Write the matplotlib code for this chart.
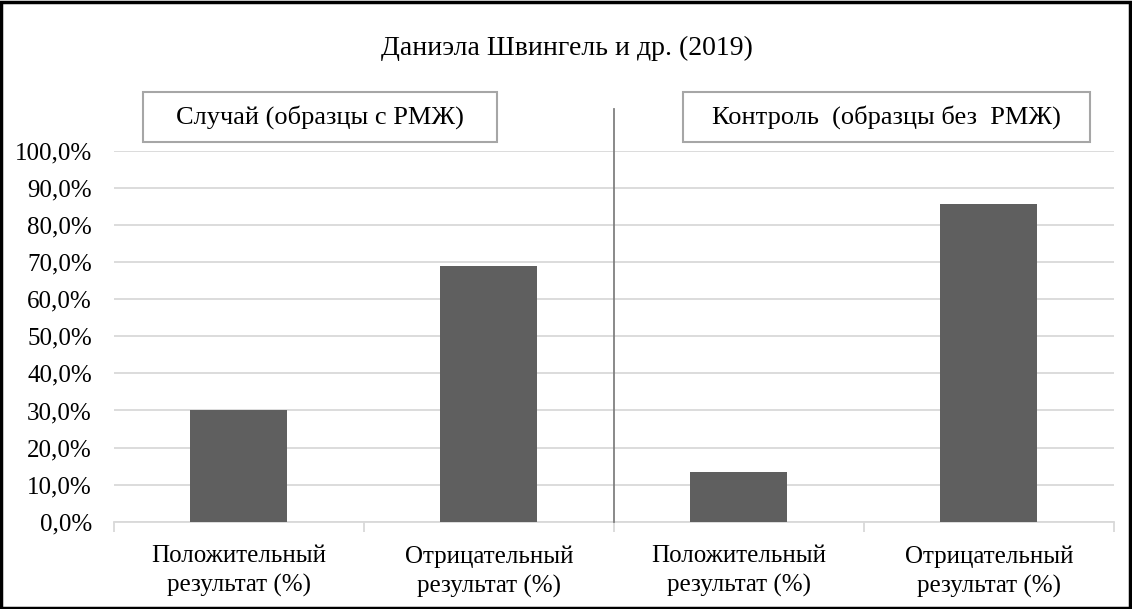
import matplotlib
matplotlib.use('Agg')
import matplotlib.pyplot as plt
from matplotlib.patches import Rectangle
from matplotlib.lines import Line2D

# data
categories = ["Положительный\nрезультат (%)", "Отрицательный\nрезультат (%)",
              "Положительный\nрезультат (%)", "Отрицательный\nрезультат (%)"]
values = [30.2, 68.9, 13.5, 85.7]
yticks = [0, 10, 20, 30, 40, 50, 60, 70, 80, 90, 100]
title = "Даниэла Швингель и др. (2019)"
group_labels = ["Случай (образцы с РМЖ)", "Контроль  (образцы без  РМЖ)"]

plt.rcParams['font.family'] = ['Liberation Serif', 'DejaVu Serif']

W, H = 1132, 609
fig = plt.figure(figsize=(W / 100, H / 100), dpi=100)

# axes box in pixel coords
x0, x1 = 114, 1114
y_top, y_bot = 151, 521.7
ax = fig.add_axes([x0 / W, (H - y_bot) / H, (x1 - x0) / W, (y_bot - y_top) / H])

grid_c = '#d9d9d9'
ax.bar(range(len(values)), values, width=0.388, color='#5f5f5f', zorder=3)
ax.set_xlim(-0.5, len(values) - 0.5)
ax.set_ylim(0, 100)
ax.set_yticks(yticks)
ax.set_yticklabels([f"{v:.1f}%".replace('.', ',') for v in yticks], fontsize=18)
ax.yaxis.grid(True, color=grid_c, linewidth=1.3, zorder=0)
ax.tick_params(axis='y', length=0, pad=16)

# category labels in the middle, ticks at boundaries
ax.set_xticks(range(len(values)))
ax.set_xticklabels(categories, fontsize=18, linespacing=1.4)
ax.tick_params(axis='x', which='major', length=0, pad=17)
ax.set_xticks([i - 0.5 for i in range(len(values) + 1)], minor=True)
ax.tick_params(axis='x', which='minor', length=7, color=grid_c, width=1.3)

for s in ['top', 'right', 'left']:
    ax.spines[s].set_visible(False)
ax.spines['bottom'].set_color(grid_c)
ax.spines['bottom'].set_linewidth(1.3)

# vertical separator between the two groups
sep_x = 614
fig.add_artist(Line2D([sep_x / W, sep_x / W], [(H - 109) / H, (H - y_bot) / H],
                      color='#808080', linewidth=1.3))

# title
fig.text(567 / W, 1 - 48 / H, title, ha='center', va='center', fontsize=20)

# group label boxes
boxes = [(143, 92, 497, 142), (683, 92, 1090, 142)]
for (bx0, by0, bx1, by1), lab in zip(boxes, group_labels):
    fig.add_artist(Rectangle((bx0 / W, 1 - by1 / H), (bx1 - bx0) / W, (by1 - by0) / H,
                             transform=fig.transFigure, facecolor='white',
                             edgecolor='#a6a6a6', linewidth=1.5))
    fig.text((bx0 + bx1) / 2 / W, 1 - (by0 + by1) / 2 / H, lab,
             ha='center', va='center', fontsize=19)

# outer black frame
fig.add_artist(Rectangle((0.001, 0.002), 0.997, 0.995, transform=fig.transFigure,
                         fill=False, edgecolor='black', linewidth=2.5))

fig.savefig('out.png', dpi=100)
